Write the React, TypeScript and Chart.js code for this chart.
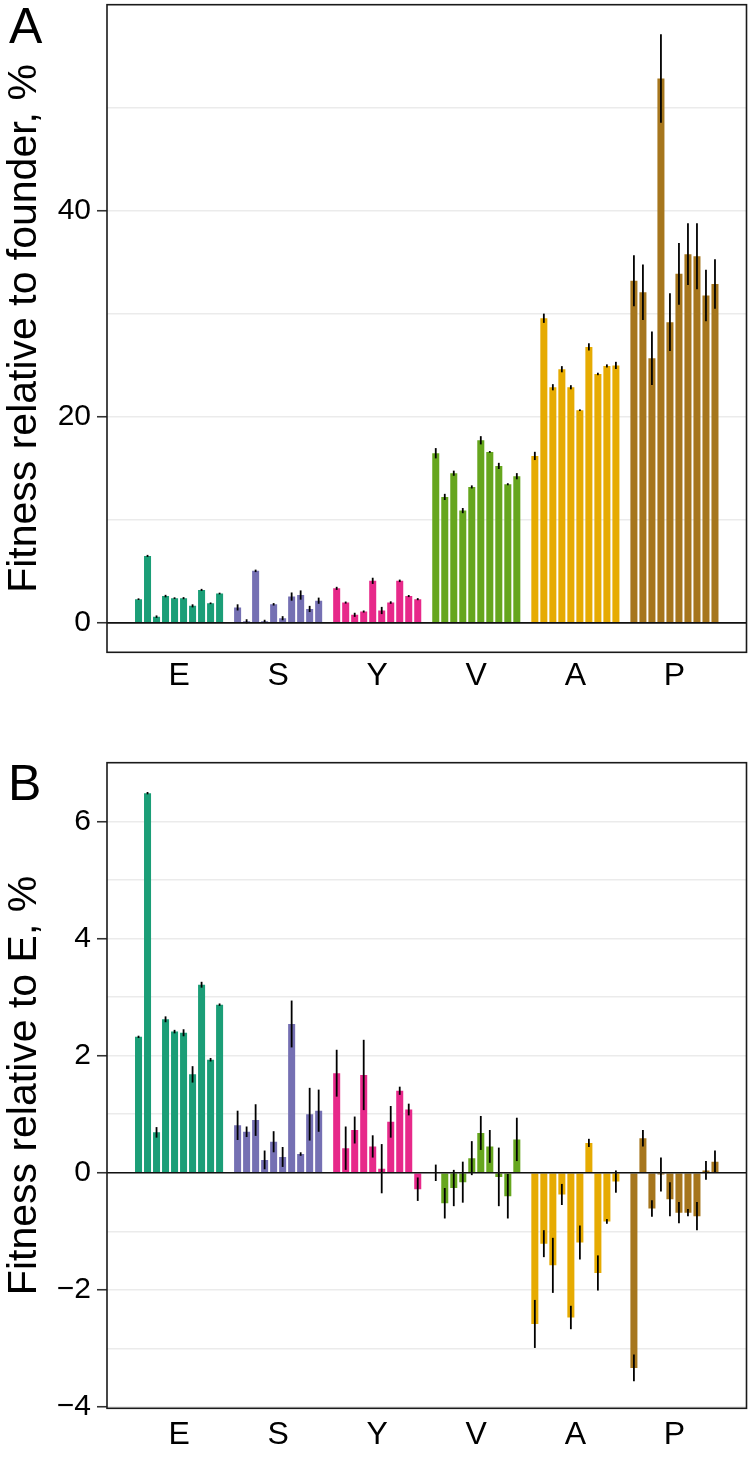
import React, { useEffect, useRef } from 'react';
import { Chart, registerables } from 'chart.js';

Chart.register(...registerables);

const FONT = '"Liberation Sans", Arial, Helvetica, sans-serif';

// Categories (groups) and colours
const groups = ['E', 'S', 'Y', 'V', 'A', 'P'];
const groupColors = ['#1b9e77', '#7570b3', '#e7298a', '#66a61e', '#e6ab02', '#a6761d'];

// Panel A: fitness relative to founder, %
const aE = [2.3, 6.5, 0.6, 2.6, 2.4, 2.4, 1.65, 3.2, 1.9, 2.85];
const aS = [1.5, 0.15, 5.05, 0.15, 1.8, 0.45, 2.55, 2.7, 1.35, 2.15];
const aY = [3.35, 1.97, 0.78, 1.1, 4.08, 1.2, 1.97, 4.08, 2.6, 2.3];
const aV = [16.47, 12.23, 14.53, 10.9, 13.2, 17.73, 16.6, 15.24, 13.46, 14.24];
const aA = [16.21, 29.58, 22.88, 24.63, 22.88, 20.65, 26.8, 24.17, 24.95, 25.0];
const aP = [33.23, 32.1, 25.7, 52.87, 29.2, 33.9, 35.8, 35.6, 31.8, 32.9];
const aErrE = [0.08, 0.1, 0.12, 0.12, 0.08, 0.1, 0.15, 0.1, 0.08, 0.08];
const aErrS = [0.3, 0.2, 0.12, 0.15, 0.12, 0.2, 0.4, 0.45, 0.3, 0.3];
const aErrY = [0.15, 0.1, 0.2, 0.1, 0.3, 0.35, 0.12, 0.12, 0.1, 0.1];
const aErrV = [0.5, 0.3, 0.25, 0.25, 0.15, 0.4, 0.08, 0.3, 0.1, 0.3];
const aErrA = [0.4, 0.45, 0.3, 0.3, 0.2, 0.08, 0.35, 0.12, 0.15, 0.35];
const aErrP = [2.48, 2.7, 2.6, 4.3, 2.8, 3.0, 3.0, 3.2, 2.5, 2.4];

// Panel B: fitness relative to E, %
const bE = [2.32, 6.48, 0.69, 2.62, 2.41, 2.39, 1.68, 3.21, 1.93, 2.87];
const bS = [0.81, 0.7, 0.9, 0.22, 0.53, 0.27, 2.54, 0.32, 1.0, 1.06];
const bY = [1.7, 0.42, 0.73, 1.67, 0.45, 0.07, 0.87, 1.4, 1.08, -0.28];
const bV = [0.0, -0.52, -0.26, -0.16, 0.25, 0.68, 0.45, -0.07, -0.4, 0.57];
const bA = [-2.58, -1.21, -1.58, -0.37, -2.47, -1.19, 0.51, -1.71, -0.83, -0.15];
const bP = [-3.33, 0.59, -0.61, -0.03, -0.45, -0.68, -0.68, -0.74, 0.04, 0.19];
const bErrE = [0.02, 0.02, 0.09, 0.05, 0.03, 0.06, 0.14, 0.05, 0.03, 0.02];
const bErrS = [0.25, 0.09, 0.27, 0.16, 0.18, 0.17, 0.4, 0.03, 0.45, 0.36];
const bErrY = [0.4, 0.37, 0.23, 0.6, 0.19, 0.42, 0.27, 0.07, 0.1, 0.2];
const bErrV = [0.14, 0.26, 0.31, 0.35, 0.29, 0.29, 0.28, 0.5, 0.38, 0.37];
const bErrA = [0.41, 0.23, 0.47, 0.18, 0.2, 0.29, 0.07, 0.3, 0.04, 0.19];
const bErrP = [0.23, 0.14, 0.14, 0.29, 0.29, 0.18, 0.06, 0.24, 0.16, 0.19];

// Tick values
const aTickValues = [0, 10, 20, 30, 40, 50];
const aLabelStep = 20;
const bTickValues = [-4, -3, -2, -1, 0, 1, 2, 3, 4, 5, 6];
const bLabelStep = 2;

// slot layout: 3 empty slots, then groups of 10 separated by one empty slot
const LEAD = 3;
const SLOT = 11;
const TOTAL_SLOTS = 71;

function buildBars(values: number[][], errors: number[][]) {
  const pts: { x: number; y: number }[] = [];
  const errs: number[] = [];
  const cols: string[] = [];
  values.forEach((vals, g) => {
    vals.forEach((v, j) => {
      pts.push({ x: g * SLOT + LEAD + j, y: v });
      errs.push(errors[g][j]);
      cols.push(groupColors[g]);
    });
  });
  return { pts, errs, cols };
}

const groupCenters = groups.map((_, g) => g * SLOT + LEAD + (aE.length - 1) / 2);

const fmt = (v: number) => (v < 0 ? '\u2212' + Math.abs(v) : String(v));

const decorPlugin = {
  id: 'panelDecor',
  afterDatasetsDraw(chart: any, _args: any, opts: any) {
    const { ctx, chartArea: ca, scales } = chart;
    const y = scales.y;
    const ds = chart.data.datasets[0];
    const meta = chart.getDatasetMeta(0);
    ctx.save();
    ctx.strokeStyle = '#000';
    ctx.lineWidth = 1.8;
    meta.data.forEach((el: any, i: number) => {
      const p = ds.data[i];
      const e = ds.errors[i];
      ctx.beginPath();
      ctx.moveTo(el.x, y.getPixelForValue(p.y - e));
      ctx.lineTo(el.x, y.getPixelForValue(p.y + e));
      ctx.stroke();
    });
    const y0 = y.getPixelForValue(0);
    ctx.lineWidth = 1.6;
    ctx.strokeStyle = '#111';
    ctx.beginPath();
    ctx.moveTo(ca.left, y0);
    ctx.lineTo(ca.right, y0);
    ctx.stroke();
    ctx.strokeStyle = '#1a1a1a';
    ctx.lineWidth = 1.6;
    ctx.strokeRect(ca.left, ca.top, ca.right - ca.left, ca.bottom - ca.top);
    ctx.fillStyle = '#000';
    ctx.font = `50px ${FONT}`;
    ctx.textBaseline = 'alphabetic';
    ctx.textAlign = 'left';
    ctx.fillText(opts.letter, opts.lx, opts.ly);
    ctx.restore();
  },
};

function makeConfig(p: {
  values: number[][];
  errors: number[][];
  min: number;
  max: number;
  tickValues: number[];
  labelStep: number;
  title: string;
  letter: string;
  lx: number;
  ly: number;
  padTop: number;
  xHeight: number;
  xPad: number;
}) {
  const { pts, errs, cols } = buildBars(p.values, p.errors);
  return {
    type: 'bar',
    data: {
      datasets: [
        {
          data: pts,
          errors: errs,
          backgroundColor: cols,
          borderWidth: 0,
          barPercentage: 0.78,
          categoryPercentage: 1,
        },
      ],
    },
    options: {
      responsive: false,
      animation: false,
      devicePixelRatio: 1,
      layout: { padding: { top: p.padTop, right: 3.5, left: 0, bottom: 0 } },
      plugins: {
        legend: { display: false },
        tooltip: { enabled: false },
        panelDecor: { letter: p.letter, lx: p.lx, ly: p.ly },
      },
      scales: {
        x: {
          type: 'linear',
          min: -0.5,
          max: TOTAL_SLOTS - 0.5,
          offset: false,
          grid: { display: false, drawTicks: false },
          border: { display: false },
          afterBuildTicks: (s: any) => {
            s.ticks = groupCenters.map((v) => ({ value: v }));
          },
          ticks: {
            autoSkip: false,
            maxRotation: 0,
            minRotation: 0,
            padding: p.xPad,
            color: '#000',
            font: { family: FONT, size: 32 },
            callback: (_v: any, i: number) => groups[i],
          },
          afterFit: (s: any) => {
            s.height = p.xHeight;
            s.paddingLeft = 0;
            s.paddingRight = 0;
          },
        },
        y: {
          type: 'linear',
          min: p.min,
          max: p.max,
          afterBuildTicks: (s: any) => {
            s.ticks = p.tickValues.map((v) => ({ value: v }));
          },
          grid: {
            color: '#ebebeb',
            lineWidth: 1.5,
            tickLength: 10,
            tickWidth: 1.6,
            tickColor: (c: any) =>
              c.tick && c.tick.value % p.labelStep === 0 ? '#333' : 'rgba(0,0,0,0)',
          },
          border: { display: false },
          ticks: {
            padding: 6,
            color: '#000',
            font: { family: FONT, size: 30 },
            callback: (v: number) => (v % p.labelStep === 0 ? fmt(v) : ''),
          },
          title: {
            display: true,
            text: p.title,
            color: '#000',
            font: { family: FONT, size: 41 },
            padding: { top: 0, bottom: 0 },
          },
          afterFit: (s: any) => {
            s.width = 107;
            s.paddingTop = 0;
            s.paddingBottom = 0;
          },
        },
      },
    },
    plugins: [decorPlugin],
  } as any;
}

function Panel(props: { width: number; height: number; config: any }) {
  const ref = useRef<HTMLCanvasElement | null>(null);
  useEffect(() => {
    if (!ref.current) return;
    const chart = new Chart(ref.current, props.config);
    return () => chart.destroy();
  }, []);
  return (
    <canvas
      ref={ref}
      width={props.width}
      height={props.height}
      style={{ display: 'block', width: props.width, height: props.height }}
    />
  );
}

export default function App() {
  const configA = makeConfig({
    values: [aE, aS, aY, aV, aA, aP],
    errors: [aErrE, aErrS, aErrY, aErrV, aErrA, aErrP],
    min: -2.86,
    max: 60.03,
    tickValues: aTickValues,
    labelStep: aLabelStep,
    title: 'Fitness relative to founder, %',
    letter: 'A',
    lx: 9,
    ly: 43,
    padTop: 4.7,
    xHeight: 67.7,
    xPad: 5,
  });
  const configB = makeConfig({
    values: [bE, bS, bY, bV, bA, bP],
    errors: [bErrE, bErrS, bErrY, bErrV, bErrA, bErrP],
    min: -4.02,
    max: 7.0,
    tickValues: bTickValues,
    labelStep: bLabelStep,
    title: 'Fitness relative to E, %',
    letter: 'B',
    lx: 8,
    ly: 80,
    padTop: 42.7,
    xHeight: 50.7,
    xPad: 8,
  });
  return (
    <div style={{ position: 'absolute', left: 0, top: 0, width: 750, height: 1459, background: '#fff' }}>
      <Panel width={750} height={720} config={configA} />
      <Panel width={750} height={739} config={configB} />
    </div>
  );
}
